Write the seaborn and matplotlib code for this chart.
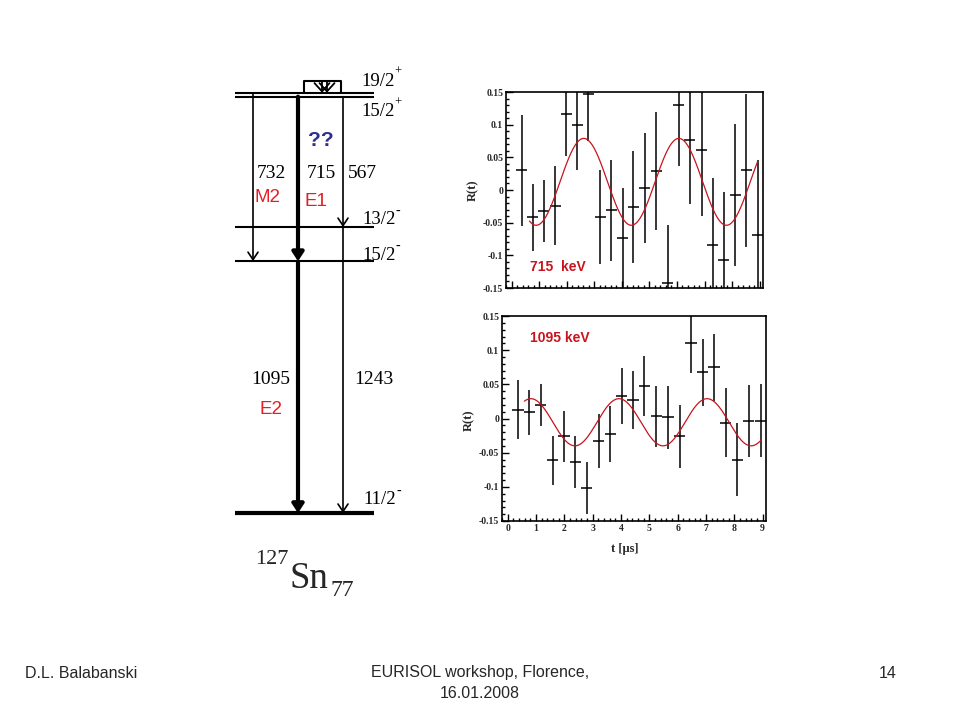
import numpy as np
import pandas as pd
import matplotlib
matplotlib.use("Agg")
import matplotlib.pyplot as plt
from matplotlib.ticker import MultipleLocator, FixedLocator, FixedFormatter
import seaborn as sns

# ---------------- data ----------------
# time bins (centre, microseconds) shared by both spectra
t_bins = [0.37, 0.77, 1.17, 1.59, 1.99, 2.39, 2.79, 3.21, 3.62, 4.03, 4.42,
          4.83, 5.25, 5.66, 6.07, 6.47, 6.89, 7.29, 7.70, 8.11, 8.51, 8.93]
t_halfwidth = 0.2

# 715 keV  R(t)
r_715 = [0.030, -0.042, -0.032, -0.024, 0.117, 0.099, 0.147, -0.041, -0.031, -0.074, -0.026,
         0.003, 0.029, -0.142, 0.130, 0.077, 0.061, -0.084, -0.107, -0.008, 0.030, -0.069]
err_715 = [0.085, 0.051, 0.048, 0.060, 0.065, 0.069, 0.072, 0.072, 0.077, 0.077, 0.086,
           0.084, 0.090, 0.089, 0.094, 0.098, 0.101, 0.102, 0.104, 0.109, 0.117, 0.115]

# 1095 keV  R(t)
r_1095 = [0.013, 0.009, 0.020, -0.061, -0.026, -0.063, -0.102, -0.033, -0.023, 0.033, 0.027,
          0.047, 0.003, 0.002, -0.026, 0.111, 0.068, 0.075, -0.006, -0.060, -0.004, -0.003]
err_1095 = [0.043, 0.033, 0.031, 0.036, 0.037, 0.038, 0.038, 0.040, 0.041, 0.041, 0.043,
            0.044, 0.045, 0.046, 0.046, 0.044, 0.049, 0.049, 0.051, 0.053, 0.053, 0.053]

# fitted oscillation parameters (offset, amplitude, period, time of maximum, fit range)
fit_715 = dict(offset=0.0125, amp=0.0665, period=3.45, tmax=2.62, tmin=0.65, tend=8.93)
fit_1095 = dict(offset=-0.0055, amp=0.0345, period=3.11, tmax=0.82, tmin=0.59, tend=8.96)

y_ticks = [-0.15, -0.1, -0.05, 0, 0.05, 0.1, 0.15]
y_ticklabels = ["-0.15", "-0.1", "-0.05", "0", "0.05", "0.1", "0.15"]
x_ticks = [0, 1, 2, 3, 4, 5, 6, 7, 8, 9]
x_ticklabels = ["0", "1", "2", "3", "4", "5", "6", "7", "8", "9"]

# level scheme of 127Sn (energies in keV)
level_energy = [0, 1095, 1243, 1810, 1827]
level_spin = ["11/2", "15/2", "13/2", "15/2", "19/2"]
level_parity = ["-", "-", "-", "+", "+"]

gamma_energy = [732, 715, 567, 1095, 1243]
gamma_from = [1827, 1810, 1810, 1095, 1243]
gamma_to = [1095, 1095, 1243, 0, 0]
gamma_mult = ["M2", "E1", "", "E2", ""]

# ---------------- style ----------------
sns.set_style("white")
plt.rcParams["font.family"] = ["DejaVu Sans"]

RED_TXT = "#E31E24"
RED_PLOT = "#C8141C"
BLUE_TXT = "#2B2F8F"
SERIF = ["Liberation Serif", "DejaVu Serif"]
SANS = ["Liberation Sans", "DejaVu Sans"]

fig = plt.figure(figsize=(9.6, 7.2), dpi=100)
fig.patch.set_facecolor("white")

W, H = 960.0, 720.0


def frac_box(left, top, right, bottom):
    return [left / W, (H - bottom) / H, (right - left) / W, (bottom - top) / H]


def style_axes(ax, show_xlabels):
    ax.set_ylim(-0.15, 0.15)
    ax.set_xlim(-0.2, 9.12)
    ax.yaxis.set_major_locator(FixedLocator(y_ticks))
    ax.yaxis.set_major_formatter(FixedFormatter(y_ticklabels))
    ax.yaxis.set_minor_locator(MultipleLocator(0.01))
    ax.xaxis.set_major_locator(FixedLocator(x_ticks))
    ax.xaxis.set_minor_locator(MultipleLocator(0.2))
    if show_xlabels:
        ax.xaxis.set_major_formatter(FixedFormatter(x_ticklabels))
    else:
        ax.set_xticklabels([])
    ax.tick_params(which="both", direction="in", top=False, right=False,
                   left=True, bottom=True, width=1.0, color="black",
                   labelsize=7, pad=2)
    ax.tick_params(which="major", length=5)
    ax.tick_params(which="minor", length=2.5)
    for lab in ax.get_xticklabels() + ax.get_yticklabels():
        lab.set_fontfamily(SERIF)
        lab.set_fontweight("bold")
    for sp in ax.spines.values():
        sp.set_visible(True)
        sp.set_color("black")
        sp.set_linewidth(1.2)
    ax.set_facecolor("white")
    ax.set_ylabel("R(t)", fontsize=9, fontweight="bold", family=SERIF)


def draw_panel(ax, r, err, fit):
    ax.errorbar(t_bins, r, yerr=err, xerr=t_halfwidth, fmt="none",
                ecolor="black", elinewidth=1.1, capsize=0, zorder=3)
    tt = np.linspace(fit["tmin"], fit["tend"], 400)
    rr = fit["offset"] + fit["amp"] * np.cos(2 * np.pi * (tt - fit["tmax"]) / fit["period"])
    df = pd.DataFrame({"t": tt, "R": rr})
    sns.lineplot(data=df, x="t", y="R", ax=ax, color=RED_PLOT, lw=0.9, zorder=4)
    ax.set_xlabel("")


# top panel: 715 keV
ax1 = fig.add_axes(frac_box(506, 92, 763, 288))
draw_panel(ax1, r_715, err_715, fit_715)
style_axes(ax1, show_xlabels=False)
ax1.yaxis.set_label_coords(-0.105, 0.5)
ax1.text(0.093, 0.107, "715  keV", transform=ax1.transAxes, color=RED_PLOT,
         fontsize=10, fontweight="bold", family=SANS, va="center", ha="left")

# bottom panel: 1095 keV
ax2 = fig.add_axes(frac_box(502, 316, 766, 521))
draw_panel(ax2, r_1095, err_1095, fit_1095)
style_axes(ax2, show_xlabels=True)
ax2.yaxis.set_label_coords(-0.103, 0.49)
ax2.set_xlabel("t [\u03bcs]", fontsize=9, fontweight="bold", family=SERIF)
ax2.xaxis.set_label_coords(0.466, -0.105)
ax2.text(0.106, 0.893, "1095 keV", transform=ax2.transAxes, color=RED_PLOT,
         fontsize=10, fontweight="bold", family=SANS, va="center", ha="left")

# ---------------- level scheme ----------------
PX_PER_KEV = 0.230
Y_GROUND_PX = 513.0
axs = fig.add_axes([0, 0, 1, 1], zorder=-1)
axs.set_xlim(0, W)
axs.set_ylim((Y_GROUND_PX - H) / PX_PER_KEV, Y_GROUND_PX / PX_PER_KEV)
axs.axis("off")


def ey(px):
    """pixel row -> energy axis value (for placing annotations)"""
    return (Y_GROUND_PX - px) / PX_PER_KEV


LX0, LX1 = 235, 374
for e in level_energy:
    lw = 3.0 if e == 0 else 1.5
    axs.plot([LX0, LX1], [e, e], color="black", lw=lw, solid_capstyle="butt")

# isomer box on top of the 19/2+ level
box_top = level_energy[4] + 50
axs.plot([304, 304, 341, 341], [level_energy[4], box_top, box_top, level_energy[4]],
         color="black", lw=1.5)
for bx in (322, 327):
    axs.annotate("", xy=(bx, level_energy[4]), xytext=(bx, box_top),
                 arrowprops=dict(arrowstyle="->,head_length=0.5,head_width=0.45",
                                 lw=1.3, color="black", shrinkA=0, shrinkB=0,
                                 mutation_scale=12))

gamma_x = {732: 253, 715: 298, 567: 343, 1095: 298, 1243: 343}
for eg, e0, e1 in zip(gamma_energy, gamma_from, gamma_to):
    x = gamma_x[eg]
    thick = eg in (715, 1095)
    if thick:
        props = dict(arrowstyle="-|>,head_length=0.42,head_width=0.28", lw=3.0,
                     color="black", fc="black", shrinkA=0, shrinkB=0, mutation_scale=12)
    else:
        props = dict(arrowstyle="->,head_length=0.45,head_width=0.3", lw=1.2,
                     color="black", shrinkA=0, shrinkB=0, mutation_scale=12)
    axs.annotate("", xy=(x, e1), xytext=(x, e0), arrowprops=props)

# gamma energy labels
gamma_lbl_pos = {732: (271.5, 173), 715: (321, 173), 567: (362.5, 173),
                 1095: (270.5, 380), 1243: (374, 380)}
for eg in gamma_energy:
    px, py = gamma_lbl_pos[eg]
    axs.text(px, ey(py), str(eg), ha="center", va="center", fontsize=14,
             family=SERIF, color="black")

# multipolarities
mult_pos = {"M2": (268, 198), "E1": (316, 201), "E2": (271, 410)}
for m in gamma_mult:
    if m:
        px, py = mult_pos[m]
        axs.text(px, ey(py), m, ha="center", va="center", fontsize=13.5,
                 family=SANS, color=RED_TXT)
axs.text(321, ey(140), "??", ha="center", va="center", fontsize=15,
         family=SANS, fontweight="bold", color=BLUE_TXT)

# level labels
lvl_lbl_pos = {0: (363, 500), 1095: (362, 255), 1243: (362, 220),
               1810: (361, 112), 1827: (361, 81)}
for e, sp, par in zip(level_energy, level_spin, level_parity):
    px, py = lvl_lbl_pos[e]
    axs.text(px, ey(py), sp, ha="left", va="center", fontsize=13.5,
             family=SERIF, color="black")
    axs.text(px + 33.5, ey(py - 9), par, ha="left", va="center",
             fontsize=9 if par == "+" else 10, family=SERIF, color="black")

# nucleus label 127Sn77
axs.text(271.5, ey(560), "127", ha="center", va="center", fontsize=16, family=SERIF)
axs.text(289, ey(588), "Sn", ha="left", va="baseline", fontsize=26.5, family=SERIF)
axs.text(331, ey(591), "77", ha="left", va="center", fontsize=17, family=SERIF)

# ---------------- footer ----------------
fig.text(25 / W, 1 - 673 / H, "D.L. Balabanski", ha="left", va="center",
         fontsize=11.5, family=SANS)
fig.text(480 / W, 1 - 673 / H, "EURISOL workshop, Florence,", ha="center",
         va="center", fontsize=11.5, family=SANS)
fig.text(480 / W, 1 - 694 / H, "16.01.2008", ha="center", va="center",
         fontsize=11.5, family=SANS)
fig.text(897 / W, 1 - 673 / H, "14", ha="right", va="center",
         fontsize=11.5, family=SANS)

fig.savefig("out.png", dpi=100, facecolor="white")
